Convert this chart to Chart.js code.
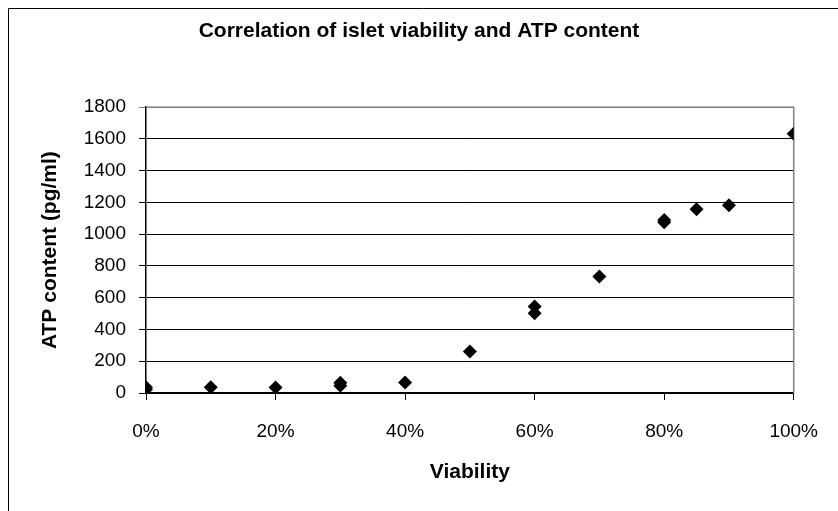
<!DOCTYPE html>
<html>
<head>
<meta charset="utf-8">
<title>Correlation of islet viability and ATP content</title>
<script src="https://cdn.jsdelivr.net/npm/chart.js@4.4.1/dist/chart.umd.min.js"></script>
<style>
  html, body { margin: 0; padding: 0; background: #fff; overflow: hidden; }
  #wrap { width: 838px; height: 511px; }
</style>
</head>
<body>
<div id="wrap"><canvas id="scatterChart" width="838" height="511"></canvas></div>
<script>
// Dane
const viability = [0, 0, 10, 20, 30, 30, 40, 50, 60, 60, 70, 80, 80, 85, 90, 100];
const atpContent = [22, 36, 36, 35, 46, 64, 66, 262, 503, 545, 734, 1075, 1090, 1158, 1183, 1632];
const xTicks = [0, 20, 40, 60, 80, 100];
const yTicks = [0, 200, 400, 600, 800, 1000, 1200, 1400, 1600, 1800];

const chartTitle = 'Correlation of islet viability and ATP content';
const xTitle = 'Viability';
const yTitle = 'ATP content (pg/ml)';

const FONT = "'Liberation Sans', Arial, sans-serif";

// Ramka wykresu (tylko lewa i górna krawędź widoczna) + szara obwódka obszaru danych
const framePlugin = {
    id: 'frame',
    beforeDraw(chart) {
        const ctx = chart.ctx;
        ctx.save();
        ctx.fillStyle = '#fff';
        ctx.fillRect(0, 0, chart.width, chart.height);
        ctx.strokeStyle = '#000';
        ctx.lineWidth = 1;
        ctx.beginPath();
        ctx.moveTo(8.5, chart.height);
        ctx.lineTo(8.5, 8.5);
        ctx.lineTo(chart.width, 8.5);
        ctx.stroke();
        ctx.restore();
    },
    beforeDatasetsDraw(chart) {
        const { ctx, chartArea } = chart;
        ctx.save();
        ctx.strokeStyle = '#808080';
        ctx.lineWidth = 1.5;
        ctx.beginPath();
        ctx.moveTo(chartArea.left, chartArea.top);
        ctx.lineTo(chartArea.right, chartArea.top);
        ctx.lineTo(chartArea.right, chartArea.bottom);
        ctx.stroke();
        ctx.restore();
    }
};

const points = viability.map((v, i) => ({ x: v, y: atpContent[i] }));

const ctx = document.getElementById('scatterChart').getContext('2d');
const scatterChart = new Chart(ctx, {
    type: 'scatter',
    data: {
        datasets: [{
            label: 'ATP',
            data: points,
            pointStyle: 'rectRot',
            pointRadius: 7,
            pointBorderWidth: 0,
            backgroundColor: '#000',
            borderColor: '#000'
        }]
    },
    options: {
        responsive: false,
        animation: false,
        layout: { padding: 0 },
        plugins: {
            legend: { display: false },
            tooltip: { enabled: false },
            title: {
                display: true,
                text: chartTitle,
                color: '#000',
                font: { family: FONT, size: 21, weight: 'bold', lineHeight: 1.2 },
                padding: { top: 19, bottom: 63 }
            }
        },
        scales: {
            x: {
                type: 'linear',
                min: 0,
                max: 100,
                afterBuildTicks: (axis) => { axis.ticks = xTicks.map(v => ({ value: v })); },
                afterFit: (axis) => { axis.height = 118; },
                ticks: {
                    color: '#000',
                    padding: 20,
                    font: { family: FONT, size: 19 },
                    callback: (v) => v + '%'
                },
                grid: {
                    drawOnChartArea: false,
                    drawTicks: true,
                    tickLength: 7,
                    color: '#000'
                },
                border: { display: true, color: '#000', width: 1.5 },
                title: {
                    display: true,
                    text: xTitle,
                    color: '#000',
                    font: { family: FONT, size: 21, weight: 'bold', lineHeight: 1.2 },
                    padding: { top: 0, bottom: 26 }
                }
            },
            y: {
                type: 'linear',
                min: 0,
                max: 1800,
                afterBuildTicks: (axis) => { axis.ticks = yTicks.map(v => ({ value: v })); },
                afterFit: (axis) => { axis.width = 146; },
                ticks: {
                    color: '#000',
                    padding: 13,
                    font: { family: FONT, size: 19 },
                    callback: (v) => String(v)
                },
                grid: {
                    drawTicks: true,
                    tickLength: 7,
                    color: (c) => (c.tick && c.tick.value === 1800 ? '#808080' : '#000'),
                    lineWidth: 1
                },
                border: { display: true, color: '#000', width: 1.5 },
                title: {
                    display: true,
                    text: yTitle,
                    color: '#000',
                    font: { family: FONT, size: 21, weight: 'bold', lineHeight: 1.2 },
                    padding: { top: 38, bottom: 0 }
                }
            },
            // pusty margines po prawej, żeby tytuł był wyśrodkowany na całej szerokości
            yRight: {
                type: 'linear',
                position: 'right',
                min: 0,
                max: 1800,
                afterFit: (axis) => { axis.width = 42; },
                ticks: { display: false },
                grid: { display: false, drawOnChartArea: false },
                border: { display: false }
            }
        }
    },
    plugins: [framePlugin]
});
</script>
</body>
</html>
